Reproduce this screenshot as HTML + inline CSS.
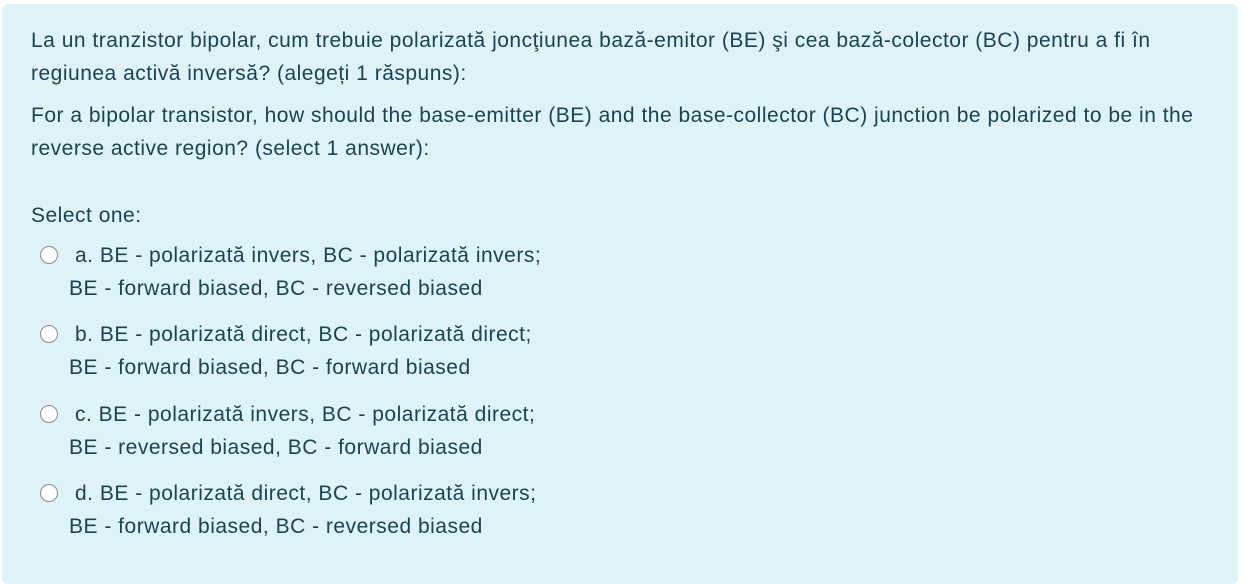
<!DOCTYPE html>
<html><head><meta charset="utf-8"><style>
body{margin:0;width:1243px;height:566px;background:#fff;overflow:hidden;font-family:"Liberation Sans",sans-serif;}
.box{position:absolute;left:2px;top:4px;width:1236px;height:580px;background:#def2f8;border-radius:6px;}
.t{position:absolute;font-size:21px;letter-spacing:0.5px;color:#1a4450;white-space:nowrap;line-height:24px;}
.r{position:absolute;width:16px;height:16px;border:1px solid #8a8a8a;border-radius:50%;background:#fff;}
</style></head><body>
<div class="box"></div>
<div class="t" style="left:31px;top:29px">La un tranzistor bipolar, cum trebuie polarizată joncţiunea bază-emitor (BE) şi cea bază-colector (BC) pentru a fi în</div>
<div class="t" style="left:31px;top:62px">regiunea activă inversă? (alegeți 1 răspuns):</div>
<div class="t" style="left:31px;top:104px">For a bipolar transistor, how should the base-emitter (BE) and the base-collector (BC) junction be polarized to be in the</div>
<div class="t" style="left:31px;top:137px">reverse active region? (select 1 answer):</div>
<div class="t" style="left:31px;top:204px">Select one:</div>
<div class="r" style="left:40px;top:246px"></div>
<div class="t" style="left:75px;top:244px">a. BE - polarizată invers, BC - polarizată invers;</div>
<div class="t" style="left:69px;top:277px">BE - forward biased, BC - reversed biased</div>
<div class="r" style="left:40px;top:325px"></div>
<div class="t" style="left:75px;top:323px">b. BE - polarizată direct, BC - polarizată direct;</div>
<div class="t" style="left:69px;top:356px">BE - forward biased, BC - forward biased</div>
<div class="r" style="left:40px;top:405px"></div>
<div class="t" style="left:75px;top:403px">c. BE - polarizată invers, BC - polarizată direct;</div>
<div class="t" style="left:69px;top:436px">BE - reversed biased, BC - forward biased</div>
<div class="r" style="left:40px;top:484px"></div>
<div class="t" style="left:75px;top:482px">d. BE - polarizată direct, BC - polarizată invers;</div>
<div class="t" style="left:69px;top:515px">BE - forward biased, BC - reversed biased</div>
</body></html>
